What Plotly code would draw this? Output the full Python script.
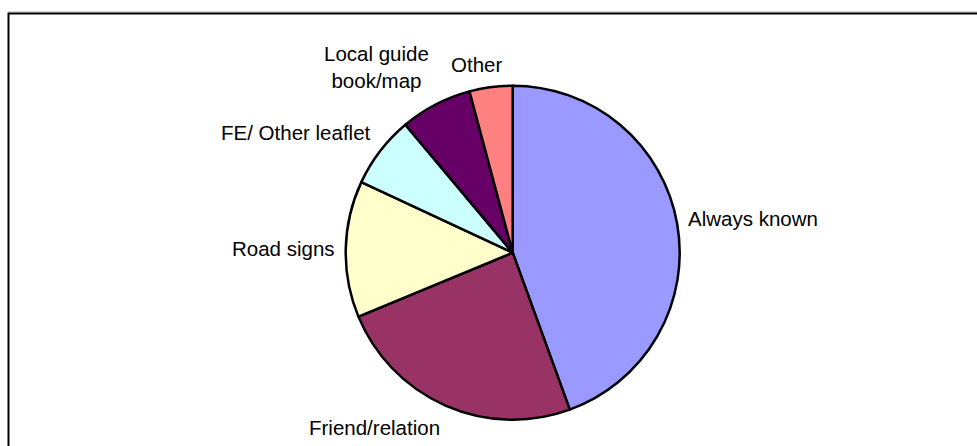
import math
import plotly.graph_objects as go

labels = ["Always known", "Friend/relation", "Road signs", "FE/ Other leaflet",
          "Local guide<br>book/map", "Other"]
values = [64, 35, 19, 10, 10, 6]
colors = ["#9999FF", "#993366", "#FFFFCC", "#CCFFFF", "#660066", "#FF8080"]

W, H = 977, 446
cx, cy, r = 512.7, 252.7, 167
gap = 9
FONT = dict(family="Liberation Sans, Arial", size=20.5, color="black")

fig = go.Figure(go.Pie(
    labels=labels, values=values, sort=False, direction="clockwise", rotation=0,
    marker=dict(colors=colors, line=dict(color="black", width=2.5)),
    textinfo="none", hoverinfo="skip", showlegend=False,
    domain=dict(x=[(cx - r) / W, (cx + r) / W], y=[1 - (cy + r) / H, 1 - (cy - r) / H]),
))

# outside labels, placed along each slice's mid-angle (computed from the values)
total = sum(values)
annotations = []
cum = 0
for lab, v in zip(labels, values):
    mid = (cum + v / 2) / total * 2 * math.pi
    cum += v
    ux, uy = math.sin(mid), -math.cos(mid)  # screen direction (y down)
    px = cx + (r + gap) * ux
    py = cy + (r + gap) * uy
    if ux > 0.3:
        xa, xs = "left", 0
    elif ux < -0.3:
        xa, xs = "right", 0
    else:
        xa, xs = "center", ux * 100
    if uy < -0.3:
        ya = "bottom"
    elif uy > 0.3:
        ya = "top"
    else:
        ya = "middle"
    ys = -4 if ux > 0.3 and ya == "middle" else 0
    if ya == "bottom" and "<br>" in lab:
        ys = -3
    annotations.append(dict(
        x=px / W, y=1 - py / H, xref="paper", yref="paper", text=lab,
        showarrow=False, xanchor=xa, yanchor=ya, xshift=xs, yshift=-ys,
        font=FONT, align="center",
    ))

fig.update_layout(
    width=W, height=H, margin=dict(l=0, r=0, t=0, b=0),
    paper_bgcolor="white", plot_bgcolor="white",
    annotations=annotations,
    shapes=[
        dict(type="line", xref="paper", yref="paper", x0=8 / W, x1=1.02,
             y0=1 - 12 / H, y1=1 - 12 / H, line=dict(color="#BBBBBB", width=1)),
        dict(type="rect", xref="paper", yref="paper", x0=8.5 / W, x1=1.02,
             y0=-0.05, y1=1 - 13.5 / H, line=dict(color="black", width=2)),
    ],
)

fig.write_html("out.html", config={"displayModeBar": False},
               post_script="document.body.style.margin='0px';document.body.style.overflow='hidden';")
